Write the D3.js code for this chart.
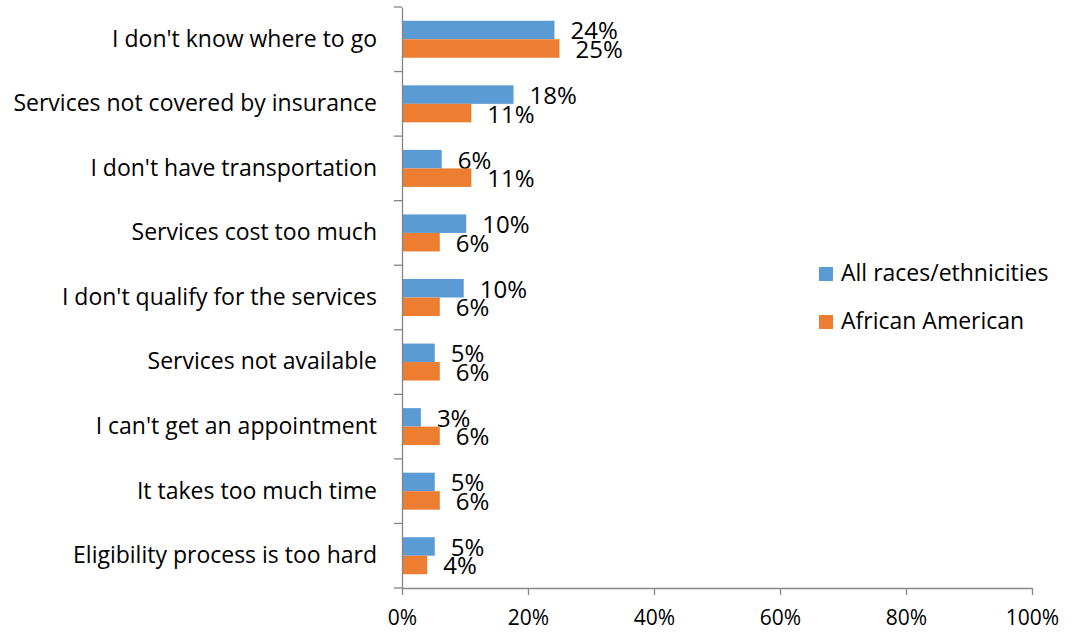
<!DOCTYPE html>
<html>
<head>
<meta charset="utf-8">
<script src="https://cdn.jsdelivr.net/npm/d3@7"></script>
<style>
  body { margin: 0; background: #fff; }
  text { font-family: "Open Sans", sans-serif; fill: #000; }
</style>
</head>
<body>
<div id="chart"></div>
<script>
// chart values
const categories = ["I don't know where to go", "Services not covered by insurance", "I don't have transportation",
  "Services cost too much", "I don't qualify for the services", "Services not available",
  "I can't get an appointment", "It takes too much time", "Eligibility process is too hard"];
const seriesNames = ["All races/ethnicities", "African American"];
const allRaces = [24.2, 17.7, 6.3, 10.2, 9.8, 5.2, 3.0, 5.2, 5.2];
const africanAmerican = [25.0, 11.0, 11.0, 6.0, 6.0, 6.0, 6.0, 6.0, 4.0];
const tickValues = [0, 20, 40, 60, 80, 100];

const colors = ["#5B9BD5", "#ED7D31"];
const width = 1074, height = 635;
const margin = {top: 7, left: 402, right: 42, bottom: 47};

const svg = d3.select("#chart").append("svg")
  .attr("width", width).attr("height", height);

const x = d3.scaleLinear().domain([0, 100]).range([margin.left, width - margin.right]);
const y = d3.scaleBand().domain(categories).range([margin.top, height - margin.bottom]).paddingInner(0).paddingOuter(0);
const barH = 18.5;

const data = categories.map((c, i) => ({cat: c, vals: [allRaces[i], africanAmerican[i]]}));

// bars
const g = svg.append("g");
data.forEach(d => {
  d.vals.forEach((v, k) => {
    const cy = y(d.cat) + y.bandwidth() / 2;
    const top = cy - barH + k * barH;
    g.append("rect")
      .attr("x", x(0)).attr("y", top)
      .attr("width", x(v) - x(0)).attr("height", barH)
      .attr("fill", colors[k]);
    g.append("text")
      .attr("x", x(v) + 16).attr("y", top + barH / 2 + 3)
      .attr("dominant-baseline", "middle")
      .style("font-size", "24px")
      .text(Math.round(v) + "%");
  });
});

// y axis
const yAxis = svg.append("g")
  .attr("transform", `translate(${margin.left},0)`)
  .call(d3.axisLeft(y).tickSize(0).tickPadding(25));
yAxis.select(".domain").attr("stroke", "#868686").attr("stroke-width", 1.3);
yAxis.selectAll("text").style("font-size", "23px").style("font-family", "'Open Sans', sans-serif").attr("fill", "#000");
// category separator ticks
const bounds = categories.map(c => y(c)).concat([y.range()[1]]);
svg.append("g").selectAll("line").data(bounds).join("line")
  .attr("x1", margin.left - 8).attr("x2", margin.left)
  .attr("y1", d => d).attr("y2", d => d)
  .attr("stroke", "#868686").attr("stroke-width", 1.3);

// x axis
const xAxis = svg.append("g")
  .attr("transform", `translate(0,${height - margin.bottom})`)
  .call(d3.axisBottom(x).tickValues(tickValues).tickFormat(d => d + "%").tickSize(7).tickSizeOuter(0).tickPadding(15));
xAxis.select(".domain").attr("stroke", "#868686").attr("stroke-width", 1.3);
xAxis.selectAll(".tick line").attr("stroke", "#868686").attr("stroke-width", 1.3);
xAxis.selectAll("text").style("font-size", "21px").style("font-family", "'Open Sans', sans-serif").attr("fill", "#000");

// legend
const legend = svg.append("g");
seriesNames.forEach((s, i) => {
  const ly = 274 + i * 48;
  legend.append("rect").attr("x", 819).attr("y", ly - 7).attr("width", 14).attr("height", 14).attr("fill", colors[i]);
  legend.append("text").attr("x", 841).attr("y", ly + 1)
    .attr("dominant-baseline", "middle").style("font-size", "23px").text(s);
});
</script>
</body>
</html>
